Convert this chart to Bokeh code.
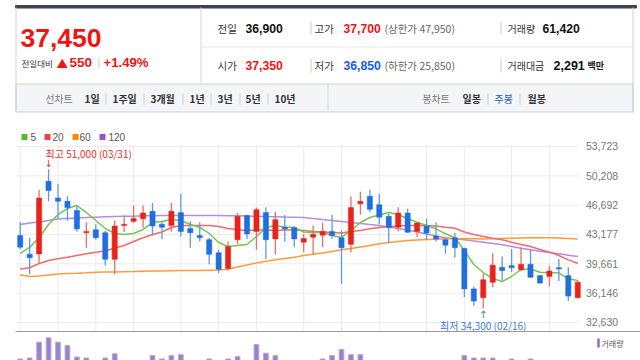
from bokeh.plotting import figure
from bokeh.models import Range1d
from bokeh.layouts import column
from bokeh.embed import file_html
from bokeh.resources import INLINE
from bokeh.core.properties import value

# ---------------- data ----------------
opens = [43050, 40800, 40850, 49550, 47550, 47150, 46050, 43400, 43750, 43400,
         40200, 44250, 44750, 45050, 45950, 44400, 44250, 45800, 43900, 43050,
         42550, 41000, 39100, 42550, 45450, 43550, 45800, 42650, 44050, 44000,
         42250, 42850, 43100, 43550, 42800, 42000, 46850, 47750, 46750, 45350,
         44050, 45750, 43550, 44200, 43000, 42550, 42800, 41500, 36650, 35600,
         37450, 39250, 39450, 38950, 39600, 38250, 38150, 39200, 38250, 35600]
highs = [44650, 42800, 48550, 51000, 49250, 47750, 46650, 44650, 44400, 43650,
         44850, 45450, 46650, 46650, 46950, 44750, 46950, 48050, 44750, 44650,
         42800, 41350, 42350, 45750, 45550, 46400, 46450, 45900, 45500, 44150,
         43250, 44250, 44550, 45550, 43650, 47750, 48300, 48550, 48050, 45650,
         46450, 46250, 44650, 45050, 44650, 42800, 43350, 41600, 36950, 38450,
         40950, 40550, 41450, 41650, 41350, 38300, 39450, 40250, 39250, 37700]
lows = [41450, 38400, 39750, 47150, 45050, 44850, 43550, 41600, 42550, 39450,
        38400, 43450, 44550, 44000, 43050, 42650, 43550, 42950, 41600, 42350,
        39600, 38550, 38850, 42000, 42650, 41350, 40250, 40800, 42300, 41650,
        41050, 40800, 41650, 42650, 37250, 41050, 45550, 45850, 44400, 42150,
        43550, 43350, 42850, 42550, 42350, 40900, 40400, 35650, 34650, 34300,
        36850, 37650, 38650, 38800, 38000, 37300, 36950, 37600, 35250, 35500]
closes = [41650, 40400, 47550, 48450, 47150, 46400, 43850, 43550, 42800, 40200,
          44200, 44400, 45100, 45750, 44200, 44050, 45950, 43550, 43400, 42800,
          40800, 39000, 41750, 45350, 43250, 46150, 42550, 44950, 43850, 42650,
          42700, 43200, 43550, 43050, 41600, 46400, 47150, 46200, 45250, 44000,
          45750, 43450, 44550, 43350, 42650, 41900, 41600, 36650, 35200, 37750,
          39500, 38850, 39200, 39600, 38050, 37350, 38800, 39050, 35800, 37450]
volumes = [760000, 780000, 1110000, 1200000, 1110000, 1040000, 800000, 780000, 620000, 780000,
           870000, 610000, 560000, 600000, 830000, 760000, 830000, 850000, 650000, 600000,
           760000, 650000, 760000, 810000, 650000, 1060000, 880000, 830000, 620000, 560000,
           520000, 600000, 760000, 830000, 960000, 850000, 850000, 700000, 640000, 600000,
           580000, 600000, 520000, 620000, 560000, 600000, 680000, 830000, 780000, 780000,
           780000, 650000, 760000, 650000, 760000, 620000, 700000, 600000, 720000, 560000]
ma5 = [40900, 41620, 42820, 44380, 45570, 46290, 46650, 45810, 44850, 43900,
       43300, 43180, 43300, 43780, 44610, 44730, 44970, 44850, 44380, 44020,
       43300, 42220, 41740, 41860, 41980, 42940, 44020, 44250, 44080, 44020,
       43480, 43420, 43420, 43060, 42820, 43660, 44610, 45210, 45510, 45810,
       45570, 45060, 44650, 44250, 43860, 43260, 42780, 41260, 39580, 38620,
       37900, 37540, 38140, 38980, 39040, 38660, 38590, 38590, 37870, 37660]
ma20 = [39040, 39190, 39700, 40060, 40260, 40460, 40660, 40860, 41060, 41200,
        41560, 41860, 42340, 42780, 43180, 43480, 44020, 44250, 44250, 44250,
        44250, 44130, 43900, 43740, 43660, 43720, 43720, 43660, 43720, 43720,
        43660, 43540, 43480, 43420, 43360, 43540, 43660, 43860, 44020, 44130,
        44190, 44250, 44250, 44250, 44190, 44050, 43930, 43480, 43180, 42940,
        42730, 42540, 42250, 41980, 41740, 41380, 41060, 40660, 40140, 39740]
ma60 = [38350, 38140, 38200, 38320, 38440, 38500, 38540, 38590, 38650, 38670,
        38690, 38720, 38740, 38770, 38790, 38810, 38840, 38860, 38860, 38860,
        38900, 38920, 39010, 39280, 39520, 39760, 39960, 40140, 40300, 40460,
        40660, 40820, 40970, 41140, 41340, 41500, 41680, 41860, 42060, 42220,
        42340, 42460, 42520, 42580, 42610, 42660, 42670, 42670, 42660, 42650,
        42660, 42700, 42720, 42760, 42780, 42780, 42780, 42760, 42700, 42640]
ma120 = [44380, 44550, 44670, 44850, 45030, 45090, 45150, 45210, 45250, 45290,
         45320, 45350, 45370, 45410, 45430, 45450, 45450, 45450, 45450, 45450,
         45450, 45450, 45430, 45410, 45380, 45360, 45330, 45310, 45270, 45250,
         45210, 45090, 44970, 44850, 44730, 44610, 44490, 44380, 44250, 44080,
         43900, 43720, 43480, 43240, 43000, 42780, 42660, 42540, 42400, 42250,
         42100, 41940, 41740, 41530, 41350, 41170, 41020, 40860, 40700, 40540]
price_ticks = [32630, 36146, 39661, 43177, 46692, 50208, 53723]
month_idx = [1, 5, 9, 13, 18, 22, 26, 31, 35, 39, 44, 48, 53, 57]
ma_names = ["5", "20", "60", "120"]
hi_date = "03/31"
lo_date = "02/16"

cur_price = 37450
change = 550
change_pct = 1.49
prev_close = 36900
open_p = 37350
high_p = 37700
low_p = 36850
upper_limit = 47950
lower_limit = 25850
vol_today = 61420
value_mil = 2291
period_tabs = ["1일", "1주일", "3개월", "1년", "3년", "5년", "10년"]
candle_tabs = ["일봉", "주봉", "월봉"]

# ---------------- styling / layout helpers ----------------
RED = "#f01414"
BLUE = "#1a5ce6"
KR = "Noto Sans CJK KR"
NUM = "Liberation Sans"

X0, DX = 19.7, 9.45          # first candle centre (px) and candle spacing (px)
PPX = 119.85                  # price units per pixel
VPX = 20800                   # volume units per pixel


def xd(X):
    return 1 + (X - X0) / DX


def yd(Y):
    return 71221 - PPX * Y


def T(p, x, y, s, size, color, bold=False, font=KR, align="left"):
    p.text(x=[x], y=[y], text=[s], text_font=value(font), text_font_size=f"{size}px",
           text_color=color, text_font_style="bold" if bold else "normal",
           text_align=align, text_baseline="middle")


# ---------------- header ----------------
h = figure(width=640, height=118, x_range=Range1d(0, 640), y_range=Range1d(118, 0),
           x_axis_type=None, y_axis_type=None, output_backend="svg",
           toolbar_location=None, min_border=0)
h.grid.visible = False
h.outline_line_color = None

h.quad(left=[15], right=[636], top=[5], bottom=[7.5], color="#3d4250")
h.quad(left=[15.5], right=[632.5], top=[83.5], bottom=[111.5],
       fill_color="#f4f5f7", line_color="#cdd0d5")
h.segment(x0=[15.5, 632.5, 200.5, 200, 327.5], y0=[7, 7, 7, 46.5, 84],
          x1=[15.5, 632.5, 200.5, 632, 327.5], y1=[112, 112, 83, 46.5, 111],
          color=["#cdd0d5", "#cdd0d5", "#d6d6d6", "#e6e6e6", "#dcdcdc"], line_width=1)
h.segment(x0=[310.5, 500.5, 310.5, 500.5], y0=[21, 21, 58, 58],
          x1=[310.5, 500.5, 310.5, 500.5], y1=[34, 34, 72, 72], color="#cccccc")
h.segment(x0=[105.5, 143.5, 182.5, 210.5, 239.5, 267.5, 487.5, 519.5], y0=[93] * 8,
          x1=[105.5, 143.5, 182.5, 210.5, 239.5, 267.5, 487.5, 519.5], y1=[104] * 8,
          color="#cccccc")

T(h, 20, 37, f"{cur_price:,}", 26.5, RED, True, NUM)
T(h, 21, 62, "전일대비", 8.5, "#333333")
T(h, 56, 62, "▲", 11.5, RED)
T(h, 69, 62, f"{change}", 13.5, RED, True, NUM)
T(h, 97, 62, "|", 10, "#cccccc", font=NUM)
T(h, 103, 62, f"+{change_pct:.2f}%", 13.2, RED, True, NUM)

r1, r2 = 27.5, 65
T(h, 217, r1, "전일", 10.5, "#333333")
T(h, 245, r1, f"{prev_close:,}", 12.2, "#111111", True, NUM)
T(h, 314, r1, "고가", 10.5, "#333333")
T(h, 343, r1, f"{high_p:,}", 12.2, RED, True, NUM)
T(h, 384, r1, f"(상한가 {upper_limit:,})", 10.5, "#666666")
T(h, 507, r1, "거래량", 10, "#333333")
T(h, 542, r1, f"{vol_today:,}", 12.2, "#111111", True, NUM)

T(h, 217, r2, "시가", 10.5, "#333333")
T(h, 245, r2, f"{open_p:,}", 12.2, RED, True, NUM)
T(h, 314, r2, "저가", 10.5, "#333333")
T(h, 343, r2, f"{low_p:,}", 12.2, BLUE, True, NUM)
T(h, 384, r2, f"(하한가 {lower_limit:,})", 10.5, "#666666")
T(h, 507, r2, "거래대금", 10, "#333333")
T(h, 553, r2, f"{value_mil:,}", 12.5, "#111111", True, NUM)
T(h, 587, r2, "백만", 9, "#222222", True)

ty = 98
T(h, 45, ty, "선차트", 9.8, "#777777")
for xx, s in zip([84, 112, 150, 189, 217, 245, 274], period_tabs):
    T(h, xx, ty, s, 10, "#333333", True)
T(h, 422, ty, "봉차트", 9.8, "#777777")
for xx, s, col in zip([462, 494, 527], candle_tabs, ["#333333", "#2a5bb5", "#333333"]):
    T(h, xx, ty, s, 10, col, s != "주봉")

# ---------------- price + volume chart ----------------
c = figure(width=640, height=242, x_range=Range1d(xd(0), xd(640)),
           y_range=Range1d(yd(360), yd(118)), x_axis_type=None, y_axis_type=None,
           output_backend="svg", toolbar_location=None, min_border=0)
c.outline_line_color = None
c.grid.visible = False

n_t = len(price_ticks)
n_m = len(month_idx)
# grid
c.segment(x0=[xd(15)] * n_t, x1=[xd(578)] * n_t, y0=price_ticks, y1=price_ticks,
          color="#ebebeb", line_width=1)
c.segment(x0=month_idx, x1=month_idx, y0=[yd(331)] * n_m, y1=[yd(145)] * n_m,
          color="#ebebeb", line_width=1)
# price scale labels (right side)
c.text(x=[xd(585.5)] * n_t, y=price_ticks, text=[f"{t:,}" for t in price_ticks],
       text_font=value(NUM), text_font_size="10.5px", text_color="#777777",
       text_baseline="middle", text_align="left")

idx = list(range(1, len(closes) + 1))

# volume
c.extra_y_ranges = {"vol": Range1d((395 - 360) * VPX, (395 - 118) * VPX)}
c.vbar(x=idx, top=volumes, bottom=0, width=0.5, y_range_name="vol",
       fill_color="#9a82c8", line_color="#b9a8dc")
c.segment(x0=[xd(15)], x1=[xd(640)], y0=[yd(331)], y1=[yd(331)], color="#9a9a9a", line_width=1)

# moving averages
ma_cols = ["#74c650", "#f06a6a", "#ff9a3a", "#b88ae0"]
for ma, col in zip([ma120, ma60, ma20, ma5], ma_cols[::-1]):
    c.line(idx, ma, color=col, line_width=1.5)

# candles
up = [cl >= op for op, cl in zip(opens, closes)]
body_col = ["#e8231c" if u else "#1f6fe0" for u in up]
wick_col = ["#ef6b66" if u else "#5f98ea" for u in up]
c.segment(x0=idx, x1=idx, y0=lows, y1=highs, color=wick_col, line_width=1.3)
c.vbar(x=idx, top=[max(o, cl) for o, cl in zip(opens, closes)],
       bottom=[min(o, cl) for o, cl in zip(opens, closes)], width=0.55,
       fill_color=body_col, line_color=body_col, line_width=0.5)

# high / low annotations
hi_v = max(highs)
hi_i = highs.index(hi_v) + 1
lo_v = min(lows)
lo_i = lows.index(lo_v) + 1
c.text(x=[hi_i - 3 / DX], y=[hi_v + 15.5 * PPX], text=[f"최고 {hi_v:,} ({hi_date})"],
       text_font=value(KR), text_font_size="10px", text_color="#e8302a",
       text_baseline="middle", text_align="left")
c.text(x=[hi_i], y=[hi_v + 6 * PPX], text=["↓"], text_font=value("DejaVu Sans"),
       text_font_size="10px", text_color="#e8302a", text_baseline="middle", text_align="center")
c.text(x=[lo_i], y=[lo_v - 17 * PPX], text=[f"최저 {lo_v:,} ({lo_date})"],
       text_font=value(KR), text_font_size="10px", text_color="#3b7bd9",
       text_baseline="middle", text_align="center")
c.text(x=[lo_i], y=[lo_v - 6 * PPX], text=["↑"], text_font=value("DejaVu Sans"),
       text_font_size="10px", text_color="#3b7bd9", text_baseline="middle", text_align="center")

# moving-average legend (above plot area)
leg_sq = ["#55bb33", "#ee4444", "#ff8800", "#9955cc"]
sq_x = [xd(v) for v in (21, 44, 72, 99)]
tx_x = [xd(v) for v in (30, 52, 79, 108)]
c.rect(x=[s + 3 / DX for s in sq_x], y=[yd(136.5)] * 4, width=6 / DX, height=6 * PPX,
       fill_color=leg_sq, line_color=None)
c.text(x=tx_x, y=[yd(136.5)] * 4, text=ma_names, text_font=value(NUM),
       text_font_size="10px", text_color="#555555", text_baseline="middle", text_align="left")
# volume legend
c.rect(x=[xd(598)], y=[yd(342.5)], width=2.5 / DX, height=9 * PPX,
       fill_color="#8e6cc5", line_color=None)
c.text(x=[xd(601)], y=[yd(342.5)], text=["거래량"], text_font=value(KR),
       text_font_size="8px", text_color="#555555", text_baseline="middle", text_align="left")

layout = column(h, c)
open("out.html", "w").write(file_html(layout, INLINE))
